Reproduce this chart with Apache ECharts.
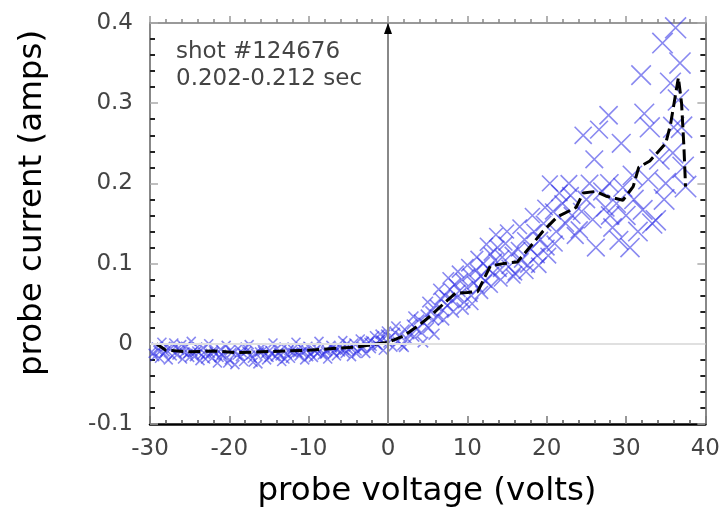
<!DOCTYPE html>
<html>
<head>
<meta charset="utf-8">
<script src="https://cdn.jsdelivr.net/npm/echarts@6/dist/echarts.min.js"></script>
<style>html,body{margin:0;padding:0;background:#fff}#c{width:723px;height:509px}</style>
</head>
<body>
<div id="c"></div>
<script>
// ---- data ----
const xTicks = [-30, -20, -10, 0, 10, 20, 30, 40];
const yTicks = [-0.1, 0, 0.1, 0.2, 0.3, 0.4];
const xTitle = 'probe voltage (volts)';
const yTitle = 'probe current (amps)';
const noteLines = ['shot #124676', '0.202-0.212 sec'];

// individual probe samples (V, A)
const samples = [
  [-29.6,-0.012],[-29.2,-0.004],[-28.8,-0.018],[-28.5,0.002],[-28.1,-0.010],[-27.7,-0.020],[-27.4,-0.006],[-27.0,0.001],
  [-26.6,-0.014],[-26.3,-0.008],[-25.9,-0.019],[-25.5,-0.003],[-25.2,-0.012],[-24.8,0.003],[-24.4,-0.016],[-24.1,-0.009],
  [-23.7,-0.021],[-23.3,-0.005],[-23.0,-0.013],[-22.6,0.000],[-22.2,-0.018],[-21.9,-0.010],[-21.5,-0.024],[-21.1,-0.007],
  [-20.8,-0.015],[-20.4,-0.002],[-20.0,-0.020],[-19.7,-0.011],[-19.3,-0.026],[-18.9,-0.006],[-18.6,-0.016],[-18.2,-0.022],
  [-17.8,-0.009],[-17.5,-0.001],[-17.1,-0.018],[-16.7,-0.012],[-16.4,-0.025],[-16.0,-0.005],[-15.6,-0.014],[-15.3,-0.020],
  [-14.9,-0.008],[-14.5,0.001],[-14.2,-0.016],[-13.8,-0.011],[-13.4,-0.022],[-13.1,-0.004],[-12.7,-0.013],[-12.3,-0.018],
  [-12.0,-0.007],[-11.6,0.002],[-11.2,-0.015],[-10.9,-0.010],[-10.5,-0.020],[-10.1,-0.003],[-9.8,-0.012],[-9.4,-0.017],
  [-9.0,-0.006],[-8.7,0.003],[-8.3,-0.014],[-7.9,-0.009],[-7.6,-0.019],[-7.2,-0.002],[-6.8,-0.011],[-6.5,-0.015],
  [-6.1,-0.004],[-5.7,0.004],[-5.4,-0.012],[-5.0,-0.007],[-4.6,-0.016],[-4.3,0.001],[-3.9,-0.009],[-3.5,0.006],
  [-3.2,-0.004],[-2.8,-0.012],[-2.4,0.002],[-2.1,-0.006],[-1.7,0.010],[-1.3,-0.002],[-1.0,0.005],[-0.6,-0.008],
  [-0.3,0.012],[0.0,0.001],
  [-29.0,-0.008],[-28.0,-0.003],[-27.2,-0.015],[-26.0,-0.001],[-25.0,-0.017],[-24.0,-0.004],[-23.0,-0.019],[-22.0,-0.008],
  [-21.0,-0.013],[-20.2,-0.024],[-19.0,-0.014],[-18.0,-0.004],[-17.0,-0.023],[-16.2,-0.010],[-15.0,-0.017],[-14.0,-0.006],
  [-13.0,-0.019],[-12.0,-0.011],[-11.0,-0.004],[-10.0,-0.016],[-9.2,-0.009],[-8.0,-0.013],[-7.0,-0.005],[-6.0,-0.010],
  [-5.2,0.000],[-4.0,-0.012],[-3.0,0.003],[-2.0,-0.003],[-1.0,0.012],[-0.2,0.016],
  [-29.4,-0.016],[-28.3,-0.012],[-26.8,-0.004],[-25.7,-0.011],[-24.6,-0.010],[-23.5,-0.014],[-22.4,-0.012],[-21.3,-0.017],
  [-19.9,-0.008],[-18.4,-0.011],[-17.3,-0.014],[-15.8,-0.009],[-14.7,-0.012],[-13.6,-0.015],[-12.5,-0.008],[-11.4,-0.011],
  [-10.3,-0.008],[-8.9,-0.012],[-7.7,-0.008],[-6.6,-0.006],[-5.5,-0.008],[-4.4,-0.004],[-3.3,-0.006],[-2.2,0.004],
  [-1.5,0.000],[-0.8,0.004],
  [0.3,0.008],[0.6,-0.004],[0.9,0.014],[1.2,0.003],[1.5,0.010],[1.8,-0.002],[2.1,0.018],[2.4,0.006],
  [2.7,0.012],[3.0,0.024],[3.3,0.009],[3.6,0.018],[3.9,0.030],[4.2,0.014],[4.5,0.026],[4.8,0.036],
  [5.1,0.020],[5.4,0.040],[5.7,0.030],[6.0,0.048],[6.3,0.034],[6.6,0.056],[6.9,0.042],[7.2,0.060],
  [7.5,0.048],[7.8,0.068],[8.1,0.054],[8.4,0.074],[8.7,0.058],[9.0,0.066],[9.3,0.080],[9.6,0.052],
  [9.9,0.070],[10.2,0.086],[10.5,0.060],[10.8,0.076],[11.1,0.092],[11.4,0.070],[11.7,0.084],[12.0,0.100],
  [12.3,0.078],[12.6,0.094],[12.9,0.112],[13.2,0.088],[13.5,0.104],[13.8,0.120],[14.1,0.092],[14.4,0.108],
  [14.8,0.125],[15.2,0.096],[15.6,0.112],[16.0,0.088],[16.4,0.118],[16.8,0.104],[17.2,0.130],[17.6,0.098],
  [18.0,0.118],[18.4,0.140],[18.8,0.110],[19.2,0.130],[19.6,0.150],[20.0,0.120],
  [1.0,0.022],[2.0,-0.004],[3.2,0.034],[4.4,0.002],[5.0,0.052],[5.8,0.012],[6.4,0.068],[7.0,0.030],
  [7.6,0.082],[8.2,0.040],[8.8,0.090],[9.4,0.044],[10.0,0.098],[10.6,0.050],[11.2,0.108],[11.8,0.064],
  [12.4,0.124],[13.0,0.072],[13.6,0.136],[14.2,0.080],[15.0,0.140],[15.8,0.084],[16.6,0.146],[17.4,0.090],
  [18.2,0.160],[19.0,0.098],[19.8,0.170],[20.2,0.110],
  [20.4,0.200],[20.8,0.165],[21.2,0.140],[21.6,0.188],[22.0,0.175],[22.4,0.150],[22.8,0.200],[23.2,0.160],
  [23.6,0.135],[24.1,0.142],[24.6,0.260],[25.0,0.180],[25.4,0.200],[25.8,0.155],[26.2,0.120],[26.6,0.267],
  [27.0,0.190],[27.4,0.170],[27.8,0.285],[27.9,0.200],[28.3,0.145],[28.8,0.175],[29.1,0.129],[29.6,0.195],
  [30.0,0.160],[30.5,0.120],[31.0,0.180],[31.5,0.140],[31.9,0.335],[32.1,0.167],[32.3,0.287],[32.8,0.205],
  [33.3,0.150],[33.75,0.154],[34.2,0.230],[34.6,0.375],[35.0,0.200],[35.6,0.325],[35.9,0.238],[36.25,0.394],
  [36.6,0.304],[37.0,0.270],[37.2,0.220],[37.5,0.196],[36.8,0.350],
  [21.0,0.125],[23.0,0.185],[24.4,0.165],[26.0,0.230],[28.0,0.160],[29.4,0.250],[30.8,0.210],[33.0,0.270],
  [34.8,0.180],[36.0,0.270]
];

// averaged I-V curve (dashed black)
const avgVolts = [-29.2,-28,-25,-22,-19,-16,-13,-10,-7,-4,-2,0,2,4,5.5,7,8.5,10,11.3,12.9,14.5,16.3,18,19.5,21.3,23.7,24.6,26.2,27.5,29.6,30.9,31.6,33,35,35.6,36.6,37.0,37.3,37.5];
const avgAmps  = [0.000,-0.008,-0.010,-0.009,-0.011,-0.010,-0.009,-0.008,-0.006,-0.004,-0.001,0.002,0.010,0.024,0.036,0.050,0.063,0.064,0.065,0.097,0.100,0.102,0.122,0.140,0.158,0.170,0.188,0.190,0.184,0.179,0.196,0.220,0.228,0.250,0.273,0.332,0.300,0.245,0.196];

const avgData = avgVolts.map((v, i) => [v, avgAmps[i]]);

const FONT = 'DejaVu Sans';
const chart = echarts.init(document.getElementById('c'), null, {renderer: 'canvas'});

const xBase = {
  type: 'value', min: xTicks[0], max: xTicks[xTicks.length - 1], interval: 10,
  splitLine: {show: false}
};
const yBase = {
  type: 'value', min: yTicks[0], max: yTicks[yTicks.length - 1], interval: 0.1,
  splitLine: {show: false}
};

chart.setOption({
  animation: false,
  backgroundColor: '#fff',
  grid: {left: 150, right: 13, top: 23, bottom: 85},
  xAxis: [
    Object.assign({}, xBase, {
      position: 'bottom',
      axisLine: {onZero: false, lineStyle: {color: '#000', width: 2.5}},
      axisTick: {inside: true, length: 8, lineStyle: {color: '#777', width: 1.5}},
      minorTick: {show: true, splitNumber: 5, length: 4, lineStyle: {color: '#555', width: 1.5}},
      axisLabel: {fontFamily: FONT, fontSize: 23, color: '#444', margin: 14}
    }),
    Object.assign({}, xBase, {
      position: 'top',
      axisLine: {onZero: false, lineStyle: {color: '#999', width: 2}},
      axisTick: {inside: false, length: 7, lineStyle: {color: '#999', width: 1.5}},
      minorTick: {show: true, splitNumber: 5, length: 4, lineStyle: {color: '#888', width: 1.5}},
      axisLabel: {show: false}
    })
  ],
  yAxis: [
    Object.assign({}, yBase, {
      position: 'left',
      axisLine: {onZero: false, lineStyle: {color: '#888', width: 2}},
      axisTick: {inside: true, length: 8, lineStyle: {color: '#aaa', width: 1.5}},
      minorTick: {show: true, splitNumber: 5, length: 5, lineStyle: {color: '#222', width: 2}},
      axisLabel: {fontFamily: FONT, fontSize: 23, color: '#444', margin: 17}
    }),
    Object.assign({}, yBase, {
      position: 'right',
      axisLine: {onZero: false, lineStyle: {color: '#888', width: 2}},
      axisTick: {inside: true, length: 8, lineStyle: {color: '#aaa', width: 1.5}},
      minorTick: {show: true, splitNumber: 5, length: 5, lineStyle: {color: '#222', width: 2}},
      axisLabel: {show: false}
    })
  ],
  graphic: [
    {type: 'text', left: 176, top: 41, style: {text: noteLines[0], fontFamily: FONT, fontSize: 23, fill: '#444'}},
    {type: 'text', left: 176, top: 68, style: {text: noteLines[1], fontFamily: FONT, fontSize: 23, fill: '#444'}},
    {type: 'text', x: 427, y: 492, style: {text: xTitle, fontFamily: FONT, fontSize: 32.5, fill: '#000', align: 'center', verticalAlign: 'middle'}},
    {type: 'text', x: 33, y: 203, rotation: Math.PI / 2, style: {text: yTitle, fontFamily: FONT, fontSize: 32.5, fill: '#000', align: 'center', verticalAlign: 'middle'}}
  ],
  series: [
    {
      type: 'line', data: [], z: 1, silent: true,
      markLine: {
        silent: true, symbol: ['none', 'none'], label: {show: false},
        data: [
          {yAxis: 0, lineStyle: {color: '#e0e0e0', width: 2, type: 'solid'}},
          {xAxis: 0, lineStyle: {color: '#888', width: 2, type: 'solid'}}
        ]
      },
      markPoint: {
        silent: true, label: {show: false},
        data: [{coord: [0, 0.393], symbol: 'triangle', symbolSize: [8, 11], itemStyle: {color: '#000'}}]
      }
    },
    {
      type: 'scatter', data: samples, z: 2,
      symbol: 'path://M0 0L10 10M10 0L0 10',
      symbolSize: function (val) { return 9 + Math.max(0, val[0]) * 0.33; },
      itemStyle: {color: 'rgba(0,0,0,0)', borderColor: 'rgba(45,45,228,0.7)', borderWidth: 1.6}
    },
    {
      type: 'line', data: avgData, z: 3, symbol: 'none',
      lineStyle: {color: '#000', width: 3, type: [12, 5]}
    }
  ]
});
</script>
</body>
</html>
